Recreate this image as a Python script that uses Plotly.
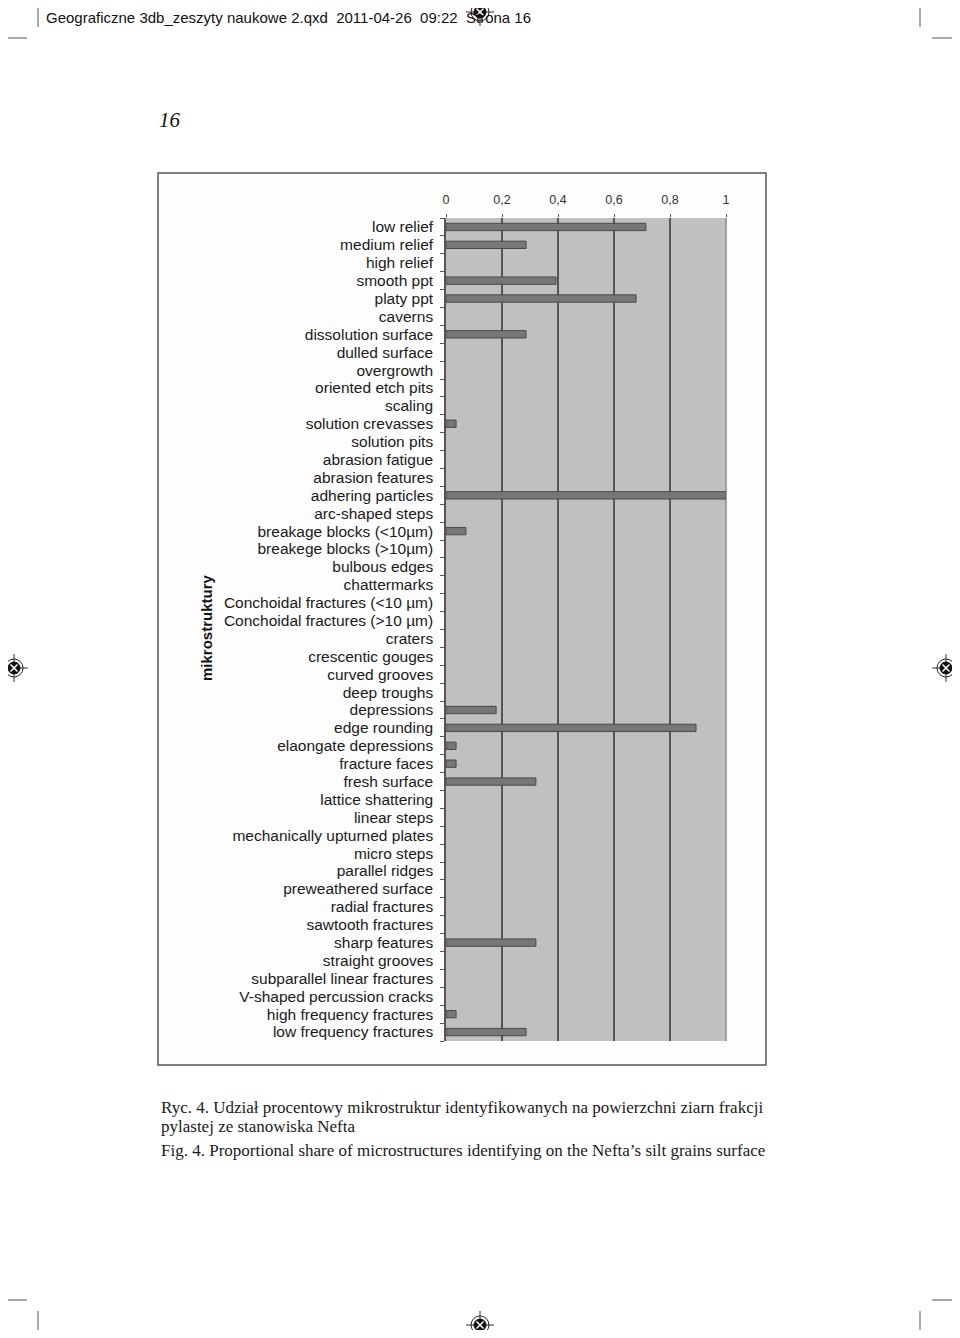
import plotly.graph_objects as go

categories = [
    "low relief", "medium relief", "high relief", "smooth ppt", "platy ppt", "caverns",
    "dissolution surface", "dulled surface", "overgrowth", "oriented etch pits", "scaling",
    "solution crevasses", "solution pits", "abrasion fatigue", "abrasion features",
    "adhering particles", "arc-shaped steps", "breakage blocks (<10µm)", "breakege blocks (>10µm)",
    "bulbous edges", "chattermarks", "Conchoidal fractures (<10 µm)", "Conchoidal fractures (>10 µm)",
    "craters", "crescentic gouges", "curved grooves", "deep troughs", "depressions",
    "edge rounding", "elaongate depressions", "fracture faces", "fresh surface",
    "lattice shattering", "linear steps", "mechanically upturned plates", "micro steps",
    "parallel ridges", "preweathered surface", "radial fractures", "sawtooth fractures",
    "sharp features", "straight grooves", "subparallel linear fractures",
    "V-shaped percussion cracks", "high frequency fractures", "low frequency fractures",
]
values = [
    0.714, 0.286, 0, 0.393, 0.679, 0,
    0.286, 0, 0, 0, 0,
    0.036, 0, 0, 0,
    1.0, 0, 0.071, 0,
    0, 0, 0, 0,
    0, 0, 0, 0, 0.179,
    0.893, 0.036, 0.036, 0.321,
    0, 0, 0, 0,
    0, 0, 0, 0,
    0.321, 0, 0,
    0, 0.036, 0.286,
]
x_tickvals = [0, 0.2, 0.4, 0.6, 0.8, 1]
x_ticktext = ["0", "0,2", "0,4", "0,6", "0,8", "1"]

# page is 960x1338; browser body margin of 8px shifts the figure
OFF = 8
W, H = 960 - 2 * OFF, 1338 - 2 * OFF
# plot area in page pixels
L, R, T, B = 446, 726, 218, 1041


def px(x):
    return (x - L) / (R - L)


def py(y):
    return (B - y) / (B - T)


fig = go.Figure()
fig.add_trace(go.Bar(
    x=values, y=categories, orientation="h", width=0.41,
    marker=dict(color="#777777",
                line=dict(color="#4a4a4a", width=[1 if v > 0 else 0 for v in values])),
    hoverinfo="x+y",
))

shapes = []
# chart frame
shapes.append(dict(type="rect", xref="paper", yref="paper", layer="below",
                   x0=px(158), x1=px(766), y0=py(1065), y1=py(173),
                   line=dict(color="#555555", width=1.5), fillcolor="#fdfdfd"))
# plot area background
shapes.append(dict(type="rect", xref="paper", yref="paper", layer="below",
                   x0=0, x1=1, y0=0, y1=1, line=dict(width=0), fillcolor="#c0c0c0"))
shapes.append(dict(type="line", xref="paper", yref="paper", layer="below",
                   x0=1, x1=1, y0=0, y1=1, line=dict(color="#8a8a8a", width=1.5)))


def line(x0, y0, x1, y1, color="#555555", w=1):
    shapes.append(dict(type="line", xref="paper", yref="paper",
                       x0=px(x0), y0=py(y0), x1=px(x1), y1=py(y1),
                       line=dict(color=color, width=w)))


# page crop marks
line(38, 0, 38, 27)
line(920, 0, 920, 27)
line(0, 38, 27, 38)
line(932, 38, 960, 38)
line(38, 1311, 38, 1338)
line(920, 1311, 920, 1338)
line(0, 1300, 27, 1300)
line(932, 1300, 960, 1300)


def reg_mark(cx, cy):
    line(cx - 14, cy, cx + 14, cy, "#333333", 1)
    line(cx, cy - 14, cx, cy + 14, "#333333", 1)
    shapes.append(dict(type="circle", xref="paper", yref="paper",
                       x0=px(cx - 9), x1=px(cx + 9), y0=py(cy + 9), y1=py(cy - 9),
                       line=dict(color="#222222", width=1)))
    shapes.append(dict(type="circle", xref="paper", yref="paper",
                       x0=px(cx - 6), x1=px(cx + 6), y0=py(cy + 6), y1=py(cy - 6),
                       line=dict(color="#111111", width=1), fillcolor="#111111"))
    line(cx - 3.5, cy - 3.5, cx + 3.5, cy + 3.5, "#ffffff", 1.5)
    line(cx - 3.5, cy + 3.5, cx + 3.5, cy - 3.5, "#ffffff", 1.5)


annotations = []
annotations.append(dict(
    text="Geograficzne 3db_zeszyty naukowe 2.qxd\u00a0\u00a02011-04-26\u00a0\u00a009:22\u00a0\u00a0Strona 16",
    xref="paper", yref="paper", x=px(44), y=py(17), xanchor="left", yanchor="middle",
    showarrow=False, font=dict(family="Liberation Sans", size=15, color="#111111")))
reg_mark(480, 12)
reg_mark(14, 668)
reg_mark(946, 668)
reg_mark(480, 1325)

annotations.append(dict(
    text="<i>16</i>", xref="paper", yref="paper", x=px(157), y=py(120),
    xanchor="left", yanchor="middle", showarrow=False,
    font=dict(family="Liberation Serif", size=21, color="#111111")))

annotations.append(dict(
    text="<b>mikrostruktury</b>", xref="paper", yref="paper", x=px(206), y=py(628),
    xanchor="center", yanchor="middle", textangle=-90, showarrow=False,
    font=dict(family="Liberation Sans", size=15, color="#111111")))

cap_font = dict(family="Liberation Serif", size=17, color="#1a1a1a")
for txt, yy in [
    ("Ryc. 4. Udział procentowy mikrostruktur identyfikowanych na powierzchni ziarn frakcji", 1107),
    ("pylastej ze stanowiska Nefta", 1126),
    ("Fig. 4. Proportional share of microstructures identifying on the Nefta’s silt grains surface", 1150),
]:
    annotations.append(dict(text=txt, xref="paper", yref="paper", x=px(159), y=py(yy),
                            xanchor="left", yanchor="middle", showarrow=False, font=cap_font))

fig.update_layout(
    width=W, height=H,
    margin=dict(l=L - OFF, r=W - (R - OFF), t=T - OFF, b=H - (B - OFF), pad=0),
    paper_bgcolor="#ffffff", plot_bgcolor="#c0c0c0",
    showlegend=False, bargap=0.59,
    shapes=shapes, annotations=annotations,
    font=dict(family="Liberation Sans", color="#222222"),
)
fig.update_xaxes(
    side="top", range=[0, 1], tickvals=x_tickvals, ticktext=x_ticktext,
    showgrid=True, gridcolor="#555555", gridwidth=1.5, zeroline=False,
    ticks="outside", ticklen=3, tickcolor="#555555",
    tickfont=dict(family="Liberation Sans", size=12.5, color="#333333"),
    ticklabelstandoff=5, showline=False, fixedrange=True,
)
fig.update_yaxes(
    type="category", autorange="reversed", categoryorder="array", categoryarray=categories,
    tickmode="array", tickvals=categories, ticktext=categories,
    ticks="outside", tickson="boundaries", ticklen=4, tickcolor="#555555",
    showline=True, linecolor="#555555", linewidth=1.5, showgrid=False,
    tickfont=dict(family="Liberation Sans", size=15.5, color="#1a1a1a"),
    ticklabelstandoff=8, fixedrange=True,
)

fig.write_html("out.html")
